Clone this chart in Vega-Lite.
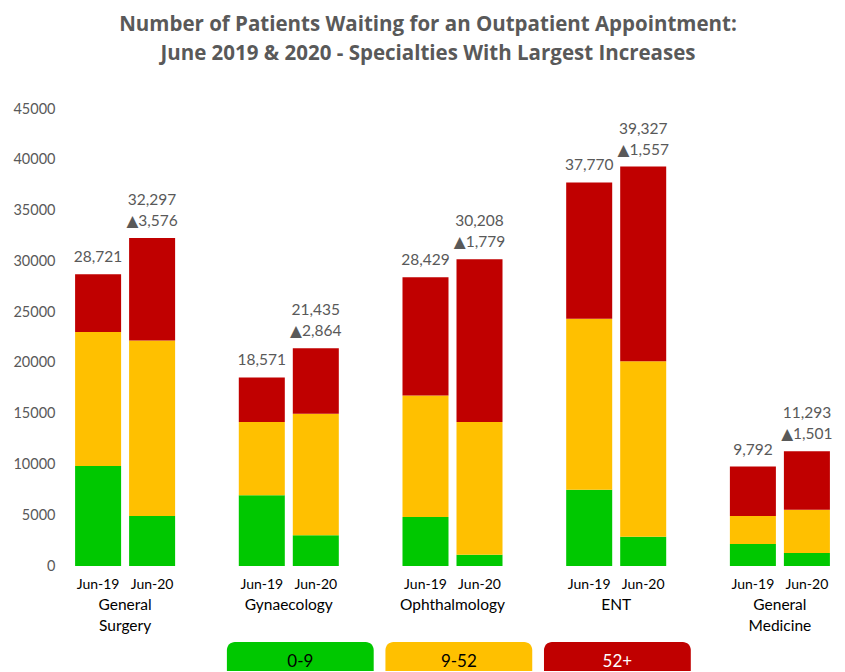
{
  "$schema": "https://vega.github.io/schema/vega-lite/v6.json",
  "padding": {"left": 12, "top": 14, "right": 2, "bottom": 0},
  "title": {
    "text": ["Number of Patients Waiting for an Outpatient Appointment:", "June 2019 & 2020 - Specialties With Largest Increases"],
    "font": "Open Sans", "fontSize": 20.5, "fontWeight": "bold", "color": "#595959",
    "lineHeight": 29, "anchor": "middle", "frame": "bounds", "offset": 37
  },
  "config": {
    "view": {"stroke": null},
    "font": "Lato",
    "axisY": {"domain": false, "ticks": false, "tickSize": 0, "grid": false, "labelPadding": 7, "labelFontSize": 14.5, "labelColor": "#595959", "labelFont": "Lato"},
    "axisX": {"domain": false, "ticks": false, "tickSize": 0, "grid": false, "labelPadding": 31, "labelFontSize": 15.5, "labelColor": "#000000", "labelFont": "Lato", "labelAngle": 0, "labelLineHeight": 21}
  },
  "datasets": {
    "segments": [
      {"specialty": "General Surgery", "period": "Jun-19", "band": "0-9", "value": 9850},
      {"specialty": "General Surgery", "period": "Jun-19", "band": "9-52", "value": 13180},
      {"specialty": "General Surgery", "period": "Jun-19", "band": "52+", "value": 5691},
      {"specialty": "General Surgery", "period": "Jun-20", "band": "0-9", "value": 4920},
      {"specialty": "General Surgery", "period": "Jun-20", "band": "9-52", "value": 17290},
      {"specialty": "General Surgery", "period": "Jun-20", "band": "52+", "value": 10087},
      {"specialty": "Gynaecology", "period": "Jun-19", "band": "0-9", "value": 6955},
      {"specialty": "Gynaecology", "period": "Jun-19", "band": "9-52", "value": 7215},
      {"specialty": "Gynaecology", "period": "Jun-19", "band": "52+", "value": 4401},
      {"specialty": "Gynaecology", "period": "Jun-20", "band": "0-9", "value": 3020},
      {"specialty": "Gynaecology", "period": "Jun-20", "band": "9-52", "value": 11970},
      {"specialty": "Gynaecology", "period": "Jun-20", "band": "52+", "value": 6445},
      {"specialty": "Ophthalmology", "period": "Jun-19", "band": "0-9", "value": 4820},
      {"specialty": "Ophthalmology", "period": "Jun-19", "band": "9-52", "value": 11980},
      {"specialty": "Ophthalmology", "period": "Jun-19", "band": "52+", "value": 11629},
      {"specialty": "Ophthalmology", "period": "Jun-20", "band": "0-9", "value": 1115},
      {"specialty": "Ophthalmology", "period": "Jun-20", "band": "9-52", "value": 13055},
      {"specialty": "Ophthalmology", "period": "Jun-20", "band": "52+", "value": 16038},
      {"specialty": "ENT", "period": "Jun-19", "band": "0-9", "value": 7510},
      {"specialty": "ENT", "period": "Jun-19", "band": "9-52", "value": 16825},
      {"specialty": "ENT", "period": "Jun-19", "band": "52+", "value": 13435},
      {"specialty": "ENT", "period": "Jun-20", "band": "0-9", "value": 2885},
      {"specialty": "ENT", "period": "Jun-20", "band": "9-52", "value": 17285},
      {"specialty": "ENT", "period": "Jun-20", "band": "52+", "value": 19157},
      {"specialty": "General Medicine", "period": "Jun-19", "band": "0-9", "value": 2165},
      {"specialty": "General Medicine", "period": "Jun-19", "band": "9-52", "value": 2755},
      {"specialty": "General Medicine", "period": "Jun-19", "band": "52+", "value": 4872},
      {"specialty": "General Medicine", "period": "Jun-20", "band": "0-9", "value": 1280},
      {"specialty": "General Medicine", "period": "Jun-20", "band": "9-52", "value": 4260},
      {"specialty": "General Medicine", "period": "Jun-20", "band": "52+", "value": 5753}
    ],
    "totals": [
      {"specialty": "General Surgery", "period": "Jun-19", "total": 28721, "change": null},
      {"specialty": "General Surgery", "period": "Jun-20", "total": 32297, "change": "▲3,576"},
      {"specialty": "Gynaecology", "period": "Jun-19", "total": 18571, "change": null},
      {"specialty": "Gynaecology", "period": "Jun-20", "total": 21435, "change": "▲2,864"},
      {"specialty": "Ophthalmology", "period": "Jun-19", "total": 28429, "change": null},
      {"specialty": "Ophthalmology", "period": "Jun-20", "total": 30208, "change": "▲1,779"},
      {"specialty": "ENT", "period": "Jun-19", "total": 37770, "change": null},
      {"specialty": "ENT", "period": "Jun-20", "total": 39327, "change": "▲1,557"},
      {"specialty": "General Medicine", "period": "Jun-19", "total": 9792, "change": null},
      {"specialty": "General Medicine", "period": "Jun-20", "total": 11293, "change": "▲1,501"}
    ],
    "legend": [
      {"band": "0-9"},
      {"band": "9-52"},
      {"band": "52+"}
    ]
  },
  "spacing": 8,
  "vconcat": [
    {
      "width": 781,
      "height": 457,
      "encoding": {
        "x": {
          "field": "specialty", "type": "nominal",
          "sort": ["General Surgery", "Gynaecology", "Ophthalmology", "ENT", "General Medicine"],
          "scale": {"paddingInner": 0.389, "paddingOuter": 0.08},
          "axis": {"title": null, "labelExpr": "split(datum.label, ' ')"}
        },
        "xOffset": {
          "field": "period", "type": "nominal",
          "sort": ["Jun-19", "Jun-20"],
          "scale": {"paddingInner": 0.148, "paddingOuter": 0}
        }
      },
      "layer": [
        {
          "data": {"name": "segments"},
          "transform": [{"calculate": "indexof(['0-9','9-52','52+'], datum.band)", "as": "bandOrder"}],
          "mark": {"type": "bar"},
          "encoding": {
            "y": {
              "field": "value", "type": "quantitative", "stack": "zero",
              "scale": {"domain": [0, 45000], "nice": false},
              "axis": {"title": null, "values": [0, 5000, 10000, 15000, 20000, 25000, 30000, 35000, 40000, 45000], "format": "d"}
            },
            "color": {
              "field": "band", "type": "nominal",
              "scale": {"domain": ["0-9", "9-52", "52+"], "range": ["#00C800", "#FFC000", "#C00000"]},
              "legend": null
            },
            "order": {"field": "bandOrder", "type": "quantitative"}
          }
        },
        {
          "data": {"name": "totals"},
          "transform": [{"filter": "datum.period === 'Jun-19'"}],
          "mark": {"type": "text", "baseline": "bottom", "dy": -9, "fontSize": 15.5, "color": "#595959", "font": "Lato"},
          "encoding": {
            "y": {"field": "total", "type": "quantitative", "axis": {"title": null, "values": [0, 5000, 10000, 15000, 20000, 25000, 30000, 35000, 40000, 45000], "format": "d"}},
            "text": {"field": "total", "type": "quantitative", "format": ","}
          }
        },
        {
          "data": {"name": "totals"},
          "transform": [{"filter": "datum.period === 'Jun-20'"}],
          "mark": {"type": "text", "baseline": "bottom", "dy": -30, "fontSize": 15.5, "color": "#595959", "font": "Lato"},
          "encoding": {
            "y": {"field": "total", "type": "quantitative", "axis": {"title": null, "values": [0, 5000, 10000, 15000, 20000, 25000, 30000, 35000, 40000, 45000], "format": "d"}},
            "text": {"field": "total", "type": "quantitative", "format": ","}
          }
        },
        {
          "data": {"name": "totals"},
          "transform": [{"filter": "datum.period === 'Jun-20'"}],
          "mark": {"type": "text", "baseline": "bottom", "dy": -9, "fontSize": 15.5, "color": "#595959", "font": "Lato, 'DejaVu Sans'"},
          "encoding": {
            "y": {"field": "total", "type": "quantitative", "axis": {"title": null, "values": [0, 5000, 10000, 15000, 20000, 25000, 30000, 35000, 40000, 45000], "format": "d"}},
            "text": {"field": "change", "type": "nominal"}
          }
        },
        {
          "data": {"name": "totals"},
          "mark": {"type": "text", "baseline": "top", "dy": 12, "fontSize": 14, "color": "#000000", "font": "Lato"},
          "encoding": {
            "y": {"datum": 0, "type": "quantitative", "axis": {"title": null, "values": [0, 5000, 10000, 15000, 20000, 25000, 30000, 35000, 40000, 45000], "format": "d"}},
            "text": {"field": "period"}
          }
        }
      ]
    },
    {
      "width": 781,
      "height": 29,
      "data": {"name": "legend"},
      "encoding": {
        "x": {
          "field": "band", "type": "nominal",
          "sort": ["0-9", "9-52", "52+"],
          "scale": {"paddingInner": 0.074, "paddingOuter": 1.056, "align": 0.52},
          "axis": null
        }
      },
      "layer": [
        {
          "mark": {"type": "bar", "cornerRadiusTopLeft": 8, "cornerRadiusTopRight": 8},
          "encoding": {
            "color": {
              "field": "band", "type": "nominal",
              "scale": {"domain": ["0-9", "9-52", "52+"], "range": ["#00C800", "#FFC000", "#C00000"]},
              "legend": null
            }
          }
        },
        {
          "mark": {"type": "text", "fontSize": 17, "font": "Lato", "baseline": "middle", "dy": 5},
          "encoding": {
            "text": {"field": "band"},
            "color": {
              "field": "band", "type": "nominal",
              "scale": {"domain": ["0-9", "9-52", "52+"], "range": ["#000000", "#000000", "#FFFFFF"]},
              "legend": null
            }
          }
        }
      ],
      "resolve": {"scale": {"color": "independent"}}
    }
  ]
}
